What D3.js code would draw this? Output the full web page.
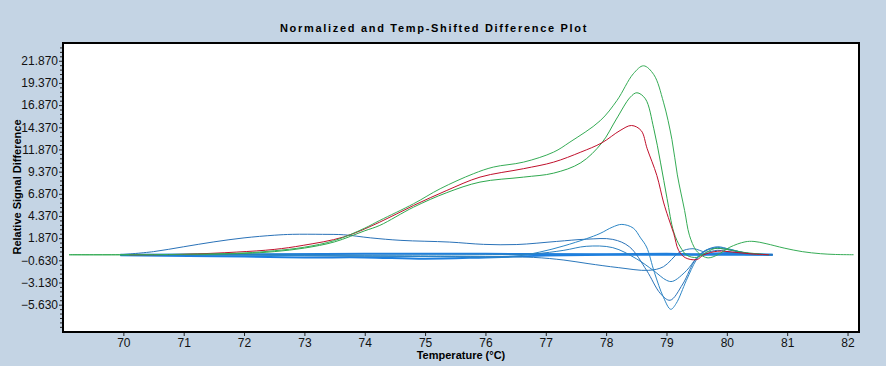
<!DOCTYPE html>
<html lang="en">
<head>
  <meta charset="UTF-8">
  <title>Normalized and Temp-Shifted Difference Plot</title>
  <script src="https://cdn.jsdelivr.net/npm/d3@7"></script>
  <style>
  html, body { margin: 0; padding: 0; background: #c4d4e4; }
  svg { display: block; font-family: Arial, "Liberation Sans", sans-serif; }
  .axis text { font-size: 12px; fill: #111; }
  .axis path { display: none; }
  .axis line { stroke: #222; }
  .title { font-size: 11px; font-weight: bold; letter-spacing: 1.7px; }
  .axis-label { font-size: 11px; font-weight: bold; }
  </style>
</head>
<body>
<svg id="chart" width="886" height="366"></svg>
<script>
  // tick values
  const xTicks = [70, 71, 72, 73, 74, 75, 76, 77, 78, 79, 80, 81, 82];
  const yTicks = [-5.63, -3.13, -0.63, 1.87, 4.37, 6.87, 9.37, 11.87, 14.37, 16.87, 19.37, 21.87];

  // [temperature, difference]
  const greenA = [[69.1,0],[70,0],[71,0.05],[72,0.2],[72.5,0.45],[73,0.85],[73.5,1.6],[74,3.0],[74.25,3.87],
    [74.81,5.75],[75.25,7.44],[75.8,9.13],[76.13,9.88],[76.63,10.44],[77.13,11.57],[77.4,12.7],[77.9,15.1],
    [78.18,17.4],[78.45,20.4],[78.62,21.3],[78.79,20.3],[78.95,17.2],[79.09,13.0],[79.18,9.0],[79.3,5.0],
    [79.38,2.2],[79.49,0.5],[79.6,-0.15],[79.7,-0.35],[79.85,0.0],[80.05,0.85],[80.3,1.45],[80.45,1.5],
    [80.65,1.25],[80.95,0.75],[81.25,0.35],[81.55,0.12],[81.8,0.03],[82.1,0]];
  const greenB = [[69.1,0],[70,0],[71,0.03],[72,0.15],[72.5,0.35],[73,0.75],[73.5,1.45],[74,2.7],[74.25,3.31],
    [74.81,5.37],[75.36,7.0],[75.91,8.19],[76.63,8.75],[77.13,9.2],[77.58,10.37],[77.93,12.62],[78.17,15.3],
    [78.4,17.76],[78.51,18.26],[78.65,17.58],[78.79,14.2],[78.9,10.44],[79.01,6.32],[79.12,2.56],[79.23,0.87],
    [79.34,-0.07],[79.5,-0.3],[79.62,0.1],[79.8,0.7],[80.0,0.6],[80.3,0.25],[80.7,0]];
  const redC = [[70.1,0],[71,0.05],[71.88,0.3],[72.5,0.6],[72.98,1.06],[73.65,2.0],[74.25,3.68],[74.81,5.56],
    [75.36,7.25],[75.91,8.75],[76.63,9.7],[77.13,10.44],[77.58,11.57],[77.93,12.62],[78.23,14.0],[78.42,14.57],
    [78.58,14.0],[78.68,11.95],[78.84,8.94],[78.95,5.94],[79.03,4.2],[79.12,2.4],[79.2,0.5],[79.31,-0.33],
    [79.5,-0.55],[79.62,0.0],[79.85,0.4],[80.1,0.3],[80.4,0.1],[80.7,0]];
  const blueA = [[69.95,0],[71,0],[72,-0.05],[73,-0.1],[74,-0.15],[75,-0.2],[76,-0.25],[76.46,-0.2],[76.9,0.3],
    [77.3,1.0],[77.67,1.8],[77.9,2.4],[78.1,3.1],[78.26,3.42],[78.45,3.0],[78.57,1.9],[78.67,0.87],[78.8,-2.0],
    [78.95,-4.8],[79.07,-6.15],[79.16,-5.5],[79.33,-2.88],[79.49,-0.63],[79.6,0.3],[79.8,0.8],[80.0,0.7],
    [80.3,0.2],[80.7,0]];
  const blueB = [[69.95,0],[70.5,0.35],[71,0.9],[71.5,1.45],[72,1.9],[72.5,2.2],[72.8,2.3],[73.3,2.3],
    [73.65,2.25],[74.1,1.9],[74.6,1.62],[75.4,1.43],[75.97,1.17],[76.52,1.15],[77.18,1.5],[77.67,1.75],
    [78.11,1.73],[78.39,0.87],[78.67,-1.76],[78.9,-4.38],[79.06,-5.13],[79.27,-3.3],[79.49,-0.45],[79.7,0.6],
    [79.9,0.7],[80.2,0.3],[80.5,0.05],[80.76,0]];
  const blueC = [[69.95,0],[72,0],[74,-0.05],[76,0],[76.8,0.1],[77.3,0.5],[77.67,0.95],[78.11,0.8],[78.5,-0.45],
    [78.78,-1.76],[79.0,-2.88],[79.1,-3.0],[79.33,-1.8],[79.49,-0.45],[79.65,0.5],[79.85,0.9],[80.05,0.6],
    [80.4,0.1],[80.7,0]];
  const blueD = [[69.95,0],[72,0.05],[74,0.1],[76,0.1],[78,0.05],[79,0.1],[79.6,0.05],[80,0.2],[80.4,0.05],[80.76,0]];
  const blueE = [[69.95,0],[72,0],[73,-0.1],[74,-0.15],[75,-0.2],[76,-0.22],[76.8,-0.3],[77.3,-0.6],[77.7,-1.0],
    [78.2,-1.45],[78.7,-1.76],[78.95,-1.35],[79.22,0.3],[79.44,0.68],[79.65,0.3],[79.85,0.5],[80.1,0.25],
    [80.5,0.05],[80.76,0]];
  const blueF = [[69.95,-0.05],[72,-0.2],[73,-0.3],[74,-0.3],[75,-0.45],[76,-0.3],[77,-0.1],[78,0],[79,0],[79.6,0],[80.76,0]];

  const series = [
    { data: blueF, color: '#1d7fe0', width: 2 },
    { data: blueD, color: '#1f7fdc', width: 2 },
    { data: blueE, color: '#2b78bc', width: 1 },
    { data: blueC, color: '#2b80c0', width: 1 },
    { data: blueB, color: '#2a72b8', width: 1 },
    { data: blueA, color: '#2c86c6', width: 1 },
    { data: greenB, color: '#2ea84e', width: 1 },
    { data: redC, color: '#c0102c', width: 1 },
    { data: greenA, color: '#36ac56', width: 1 },
  ];

  const svg = d3.select('#chart');
  const W = 886, H = 366;
  const plot = { left: 63, top: 43, right: 859, bottom: 332 };

  svg.append('rect').attr('width', W).attr('height', H).attr('fill', '#c4d4e4');

  const x = d3.scaleLinear().domain([69.0, 82.19]).range([plot.left, plot.right]);
  const y = d3.scaleLinear().domain([-8.71, 23.87]).range([plot.bottom, plot.top]);

  svg.append('rect')
    .attr('x', plot.left).attr('y', plot.top)
    .attr('width', plot.right - plot.left).attr('height', plot.bottom - plot.top)
    .attr('fill', '#fff');

  svg.append('defs').append('clipPath').attr('id', 'clip')
    .append('rect')
    .attr('x', plot.left).attr('y', plot.top)
    .attr('width', plot.right - plot.left).attr('height', plot.bottom - plot.top);

  const line = d3.line()
    .x(d => x(d[0]))
    .y(d => y(d[1]))
    .curve(d3.curveCatmullRom.alpha(0.5));

  svg.append('g').attr('clip-path', 'url(#clip)')
    .selectAll('path')
    .data(series)
    .join('path')
      .attr('d', d => line(d.data))
      .attr('fill', 'none')
      .attr('stroke', d => d.color)
      .attr('stroke-width', d => d.width);

  // frame
  svg.append('rect')
    .attr('x', plot.left).attr('y', plot.top)
    .attr('width', plot.right - plot.left).attr('height', plot.bottom - plot.top)
    .attr('fill', 'none').attr('stroke', '#000').attr('stroke-width', 2);

  // y minor ticks every 0.5
  const yMinor = d3.range(-8.13, 23.87, 0.5).filter(v => !yTicks.some(t => Math.abs(t - v) < 1e-6));
  svg.append('g').attr('class', 'axis')
    .attr('transform', `translate(${plot.left - 1},0)`)
    .call(d3.axisLeft(y).tickValues(yMinor).tickSize(2).tickFormat(''));

  svg.append('g').attr('class', 'axis')
    .attr('transform', `translate(${plot.left - 1},0)`)
    .call(d3.axisLeft(y).tickValues(yTicks).tickSize(3).tickPadding(1).tickFormat(d3.format('.3f')));

  svg.append('g').attr('class', 'axis')
    .attr('transform', `translate(0,${plot.bottom + 1})`)
    .call(d3.axisBottom(x).tickValues(xTicks).tickSize(3).tickPadding(2).tickFormat(d3.format('d')));

  svg.append('text').attr('class', 'title')
    .attr('x', 434).attr('y', 32).attr('text-anchor', 'middle')
    .text('Normalized and Temp-Shifted Difference Plot');

  svg.append('text').attr('class', 'axis-label')
    .attr('x', 461).attr('y', 359).attr('text-anchor', 'middle')
    .text('Temperature (°C)');

  svg.append('text').attr('class', 'axis-label')
    .attr('transform', 'translate(21,187) rotate(-90)')
    .attr('text-anchor', 'middle')
    .text('Relative Signal Difference');
</script>
</body>
</html>
